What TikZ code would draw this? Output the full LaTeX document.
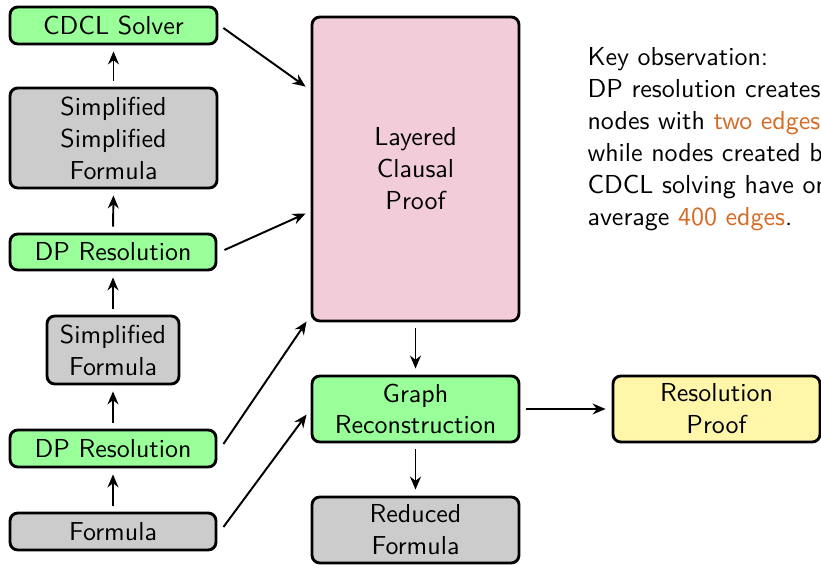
\documentclass[tikz,border=0pt]{standalone}
\usetikzlibrary{arrows.meta,calc}
\definecolor{boxgreen}{RGB}{153,255,153}
\definecolor{boxgray}{RGB}{204,204,204}
\definecolor{boxpink}{RGB}{242,204,217}
\definecolor{boxyellow}{RGB}{255,246,170}
\definecolor{notecolor}{RGB}{212,106,36}
\begin{document}
\begin{tikzpicture}[x=0.385pt,y=-0.385pt,
  font=\fontsize{10}{12.3}\selectfont\sffamily,
  box/.style={draw=black, line width=1.1pt, rounded corners=3pt,
    align=center, inner sep=0pt},
  w/.style={minimum width=#1*0.385pt},
  h/.style={minimum height=#1*0.385pt},
  arr/.style={-{Stealth[length=5pt,width=4.2pt]}, line width=0.75pt},
  gap/.style={arr, shorten <=2.3pt, shorten >=2.3pt}]
\useasboundingbox (0,0) rectangle (821,566);
\clip (0,0) rectangle (821,566);

% left column
\node[box,fill=boxgreen,w=207,h=37]  (cdcl)    at (113.5,25.5) {CDCL Solver};
\node[box,fill=boxgray,w=207,h=100]  (ssf)     at (113.5,138)  {Simplified\\Simplified\\Formula};
\node[box,fill=boxgreen,w=206,h=36]  (dpb)     at (113,252)    {DP Resolution};
\node[box,fill=boxgray,w=132,h=68]   (sf)      at (113,350)    {Simplified\\Formula};
\node[box,fill=boxgreen,w=206,h=37]  (dpa)     at (113,448.5)  {DP Resolution};
\node[box,fill=boxgray,w=206,h=37]   (formula) at (113,531.5)  {Formula};

% middle and right
\node[box,fill=boxpink,w=207,h=304]  (lcp)     at (415.5,169)  {Layered\\Clausal\\Proof};
\node[box,fill=boxgreen,w=207,h=66]  (graph)   at (415.5,409)  {Graph\\Reconstruction};
\node[box,fill=boxgray,w=207,h=66]   (reduced) at (415.5,530)  {Reduced\\Formula};
\node[box,fill=boxyellow,w=207,h=66] (res)     at (716.5,409)  {Resolution\\Proof};

% note
\node[anchor=north west, inner sep=0pt, align=left] (note) at (587,47)
  {Key observation:\\DP resolution creates\\nodes with \textcolor{notecolor}{two edges},\\while nodes created by\\CDCL solving have on\\average \textcolor{notecolor}{400 edges}.};

% vertical chain
\draw[gap] (formula.north) -- (dpa.south);
\draw[gap] (dpa.north) -- (sf.south);
\draw[gap] (sf.north) -- (dpb.south);
\draw[gap] (dpb.north) -- (ssf.south);
\draw[gap] (ssf.north) -- (cdcl.south);

% into the proof graph
\draw[arr] ($(cdcl.east)+(5,2.5)$)    -- ($(lcp.north west)+(-5,71)$);
\draw[arr] ($(dpb.east)+(7,-2)$)      -- ($(lcp.north west)+(-5,198)$);
\draw[arr] ($(dpa.east)+(6,-4.5)$)    -- ($(lcp.north west)+(-4,306)$);
\draw[arr] ($(formula.east)+(6,-4.5)$) -- ($(graph.north west)+(-4,40)$);

% right part
\draw[gap] (lcp.south) -- (graph.north);
\draw[gap] (graph.south) -- (reduced.north);
\draw[gap] (graph.east) -- (res.west);
\end{tikzpicture}
\end{document}
